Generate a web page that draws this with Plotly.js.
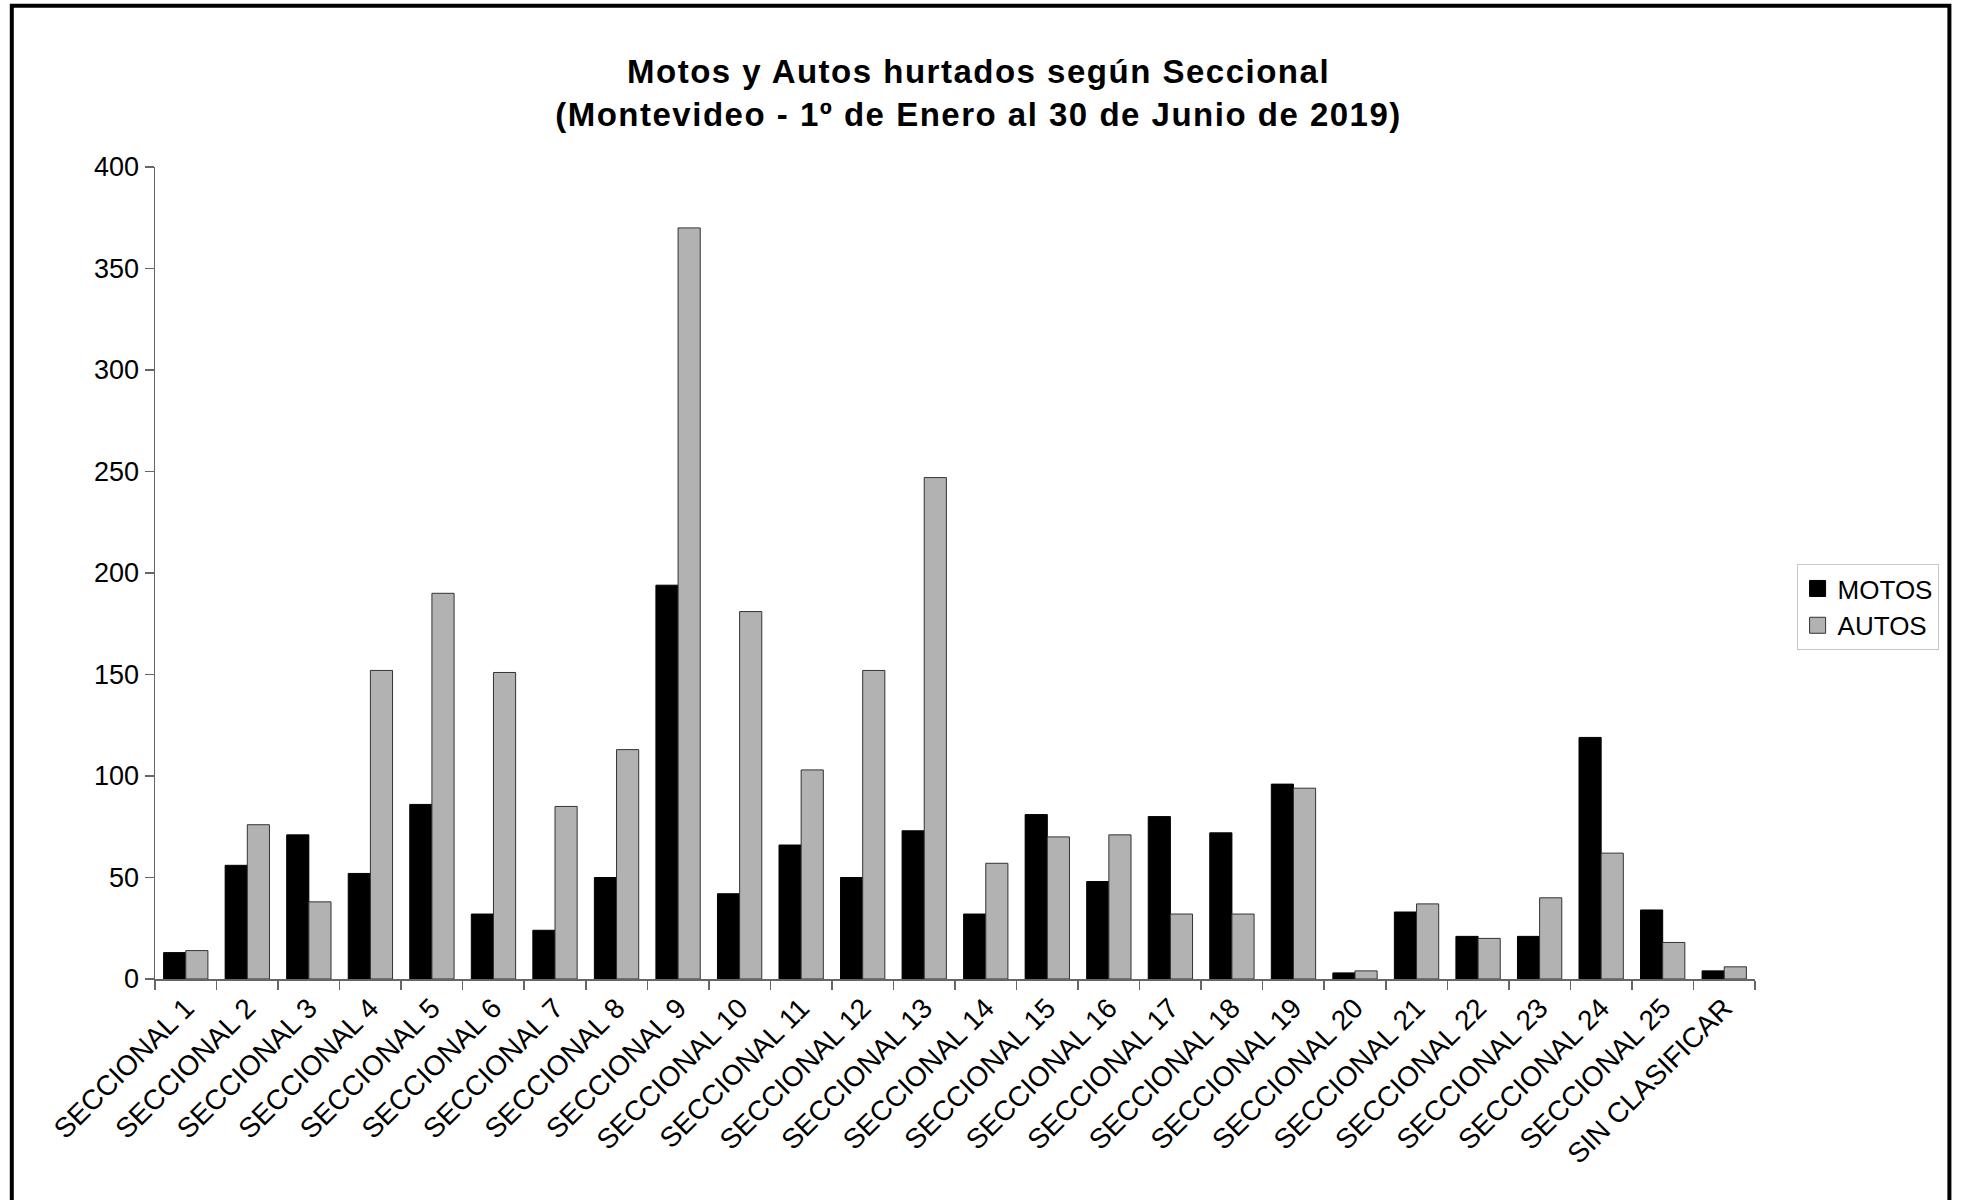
<!DOCTYPE html>
<html>
<head>
<meta charset="utf-8">
<script src="https://cdn.plot.ly/plotly-3.0.1.min.js"></script>
<style>
  html, body { margin: 0; padding: 0; background: #fff; }
  #chart { width: 1961px; height: 1200px; }
  #chart .gtitle { letter-spacing: 1.5px; }
</style>
</head>
<body>
<div id="chart"></div>
<script>
const categories = [
  "SECCIONAL 1", "SECCIONAL 2", "SECCIONAL 3", "SECCIONAL 4", "SECCIONAL 5",
  "SECCIONAL 6", "SECCIONAL 7", "SECCIONAL 8", "SECCIONAL 9", "SECCIONAL 10",
  "SECCIONAL 11", "SECCIONAL 12", "SECCIONAL 13", "SECCIONAL 14", "SECCIONAL 15",
  "SECCIONAL 16", "SECCIONAL 17", "SECCIONAL 18", "SECCIONAL 19", "SECCIONAL 20",
  "SECCIONAL 21", "SECCIONAL 22", "SECCIONAL 23", "SECCIONAL 24", "SECCIONAL 25",
  "SIN CLASIFICAR"
];
const motos = [13, 56, 71, 52, 86, 32, 24, 50, 194, 42, 66, 50, 73, 32, 81, 48, 80, 72, 96, 3, 33, 21, 21, 119, 34, 4];
const autos = [14, 76, 38, 152, 190, 151, 85, 113, 370, 181, 103, 152, 247, 57, 70, 71, 32, 32, 94, 4, 37, 20, 40, 62, 18, 6];
const yTicks = [0, 50, 100, 150, 200, 250, 300, 350, 400];
const titleText = "Motos y Autos hurtados según Seccional<br>(Montevideo - 1º de Enero al 30 de Junio de 2019)";

const FONT = "Liberation Sans, Arial, sans-serif";

const traces = [
  {
    type: "bar", name: "MOTOS", x: categories, y: motos,
    marker: { color: "#000000", line: { color: "#000000", width: 1 } },
    hoverinfo: "x+y"
  },
  {
    type: "bar", name: "AUTOS", x: categories, y: autos,
    marker: { color: "#b2b2b2", line: { color: "#333333", width: 1 } },
    hoverinfo: "x+y"
  }
];

const layout = {
  width: 1961, height: 1200,
  paper_bgcolor: "#ffffff", plot_bgcolor: "#ffffff",
  font: { family: FONT, size: 26, color: "#000" },
  margin: { l: 155, r: 206, t: 167, b: 221, pad: 0 },
  title: {
    text: titleText,
    font: { family: FONT, size: 33, color: "#000", weight: "bold" },
    x: 0.499, xref: "container", xanchor: "center",
    y: 0.931, yref: "container", yanchor: "top"
  },
  barmode: "group",
  bargap: 0.28,
  bargroupgap: 0,
  showlegend: true,
  legend: {
    x: 1.026, xanchor: "left", y: 0.511, yanchor: "top",
    bgcolor: "#ffffff", bordercolor: "#c8c8c8", borderwidth: 1,
    font: { family: FONT, size: 26, color: "#000" },
    tracegroupgap: 0, itemwidth: 30
  },
  xaxis: {
    type: "category",
    tickangle: -45,
    showline: true, linecolor: "#666", linewidth: 1.5,
    ticks: "outside", tickson: "boundaries", ticklen: 9, tickcolor: "#666", tickwidth: 1.5,
    showgrid: false, zeroline: false,
    tickfont: { family: FONT, size: 28, color: "#000" },
    automargin: false
  },
  yaxis: {
    range: [0, 400],
    tickvals: yTicks,
    ticktext: yTicks.map(String),
    showline: true, linecolor: "#666", linewidth: 1.5,
    ticks: "outside", ticklen: 9, tickcolor: "#666", tickwidth: 1.5,
    showgrid: false, zeroline: false,
    tickfont: { family: FONT, size: 27, color: "#000" },
    automargin: false
  },
  shapes: [
    {
      type: "rect", xref: "paper", yref: "paper",
      x0: -0.0895, x1: 1.1215, y0: -0.3, y1: 1.1985,
      line: { color: "#000", width: 4 }, fillcolor: "rgba(0,0,0,0)", layer: "above"
    }
  ]
};

Plotly.newPlot("chart", traces, layout, { displayModeBar: false, staticPlot: true }).then(function () {
  document.querySelectorAll("#chart .legend .legendpoints path").forEach(function (p) {
    p.setAttribute("d", "M8,8H-8V-8H8Z");
  });
});
</script>
</body>
</html>
